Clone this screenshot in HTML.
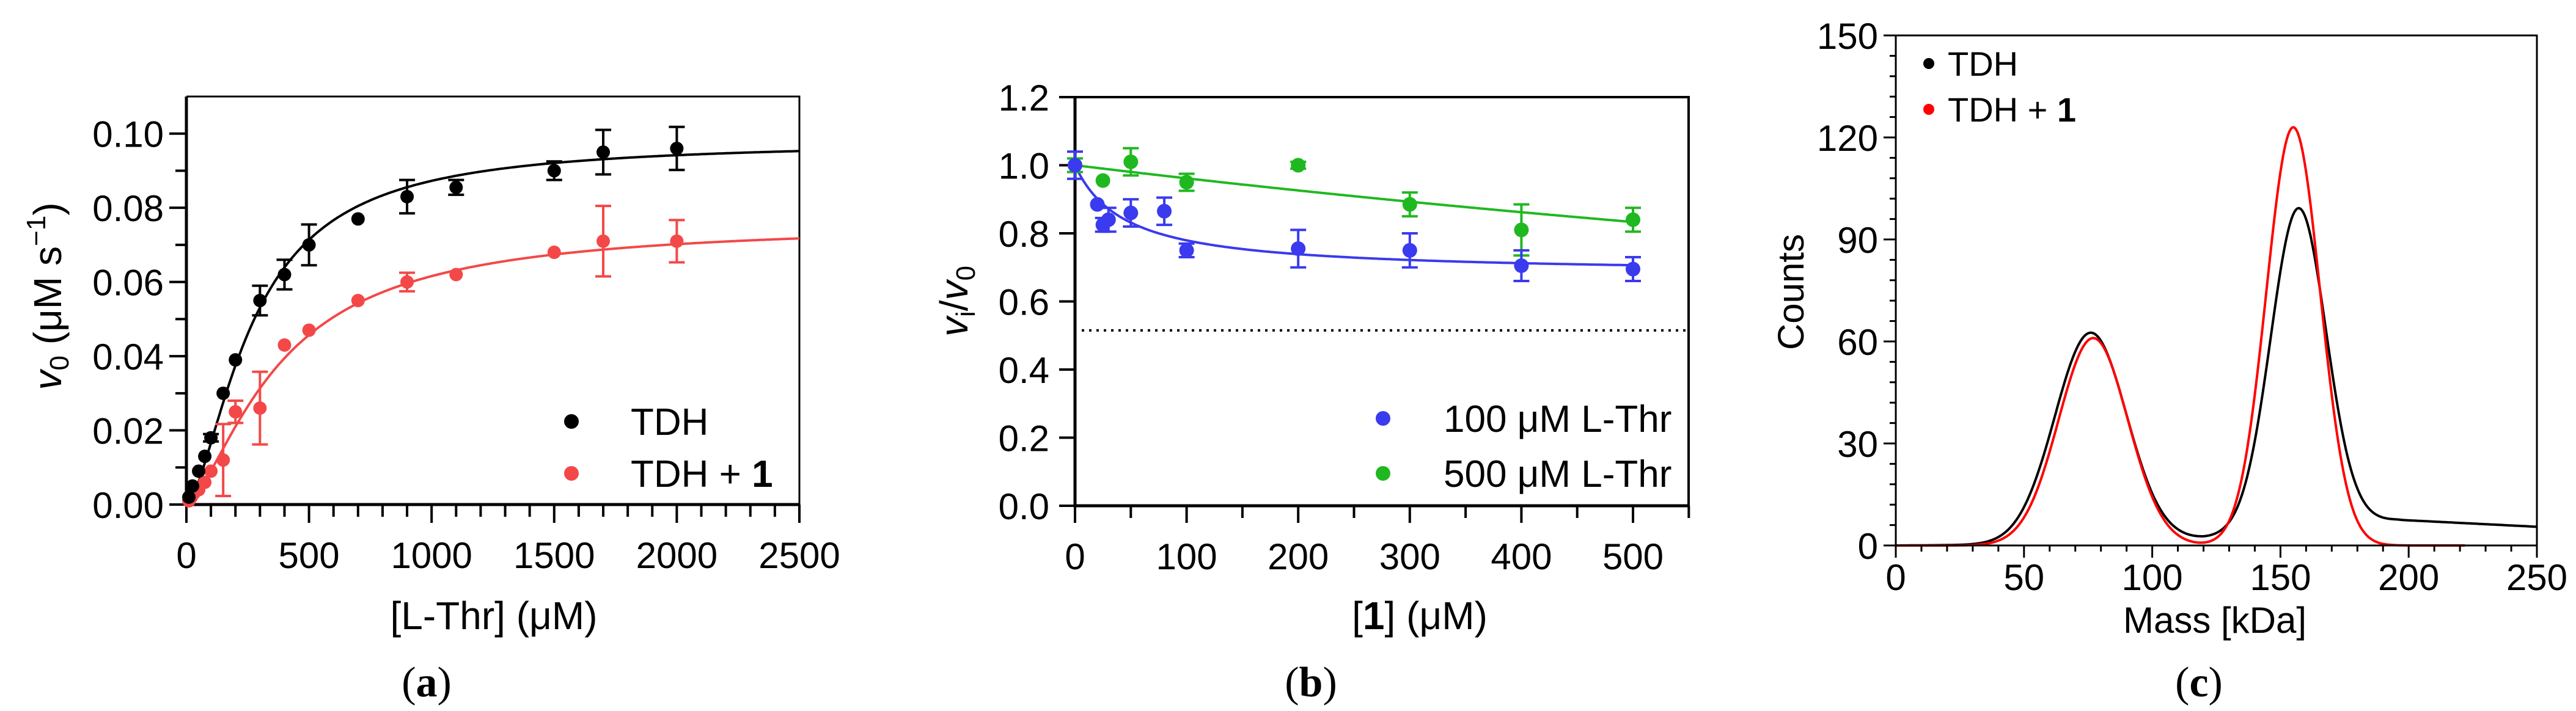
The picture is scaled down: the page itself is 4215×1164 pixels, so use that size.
<!DOCTYPE html>
<html><head><meta charset="utf-8"><style>
html,body{margin:0;padding:0;background:#fff}
svg{display:block;font-family:"Liberation Sans",sans-serif}
</style></head><body>
<svg id="fig" width="4215" height="1164" viewBox="0 0 4215 1164" xmlns="http://www.w3.org/2000/svg">
<g id="pa"></g>
<g id="pb"></g>
<g id="pc"></g>
<text x="698" y="1140" font-family="Liberation Serif,serif" font-size="70" text-anchor="middle">(<tspan font-weight="bold">a</tspan>)</text>
<text x="2145" y="1140" font-family="Liberation Serif,serif" font-size="70" text-anchor="middle">(<tspan font-weight="bold">b</tspan>)</text>
<text x="3598" y="1140" font-family="Liberation Serif,serif" font-size="70" text-anchor="middle">(<tspan font-weight="bold">c</tspan>)</text>
</svg>
<script>
// ---------- Panel A data ----------
const aTdhX = [10,25,50,75,100,150,200,300,400,500,700,900,1100,1500,1700,2000];
const aTdhY = [0.002,0.005,0.009,0.013,0.018,0.030,0.039,0.055,0.062,0.070,0.077,0.083,0.0855,0.090,0.095,0.096];
const aTdhE = [0,0,0,0,0.001,0,0,0.004,0.004,0.0055,0,0.0045,0.002,0.0025,0.006,0.0058];
const aRedX = [10,20,30,50,75,100,150,200,300,400,500,700,900,1100,1500,1700,2000];
const aRedY = [0.001,0.002,0.003,0.004,0.006,0.009,0.012,0.025,0.026,0.043,0.047,0.055,0.060,0.062,0.068,0.071,0.071];
const aRedE = [0,0,0,0,0,0,0.0097,0.003,0.0098,0,0,0,0.0025,0,0,0.0095,0.0057];
const aFitTdh = [0.098,270,1.6];  // Vmax, K, n
const aFitRed = [0.076,380,1.5];
const aXTicks = [0,500,1000,1500,2000,2500];
const aYTicks = [0,0.02,0.04,0.06,0.08,0.10];
const aYTickLabels = ["0.00","0.02","0.04","0.06","0.08","0.10"];
// ---------- Panel B data ----------
const bBlueX = [0,20,25,30,50,80,100,200,300,400,500];
const bBlueY = [1.0,0.885,0.825,0.84,0.86,0.865,0.75,0.755,0.75,0.705,0.695];
const bBlueE = [0.04,0,0.02,0.035,0.04,0.04,0.02,0.055,0.05,0.045,0.035];
const bGreenX = [0,25,50,100,200,300,400,500];
const bGreenY = [1.0,0.955,1.01,0.95,1.0,0.885,0.81,0.84];
const bGreenE = [0.02,0,0.04,0.025,0.01,0.035,0.075,0.035];
const bFitBlue = [0.32,45];   // Imax, IC50
const bFitGreen = [1.0,2500];
const bDotted = [0.515];
const bXTicks = [0,100,200,300,400,500];
const bYTicks = [0,0.2,0.4,0.6,0.8,1.0,1.2];
const bYTickLabels = ["0.0","0.2","0.4","0.6","0.8","1.0","1.2"];
// ---------- Panel C data ----------
const cTdhPeaks = [[76,62,14],[157,94,10.8]];   // center, height, sigma
const cRedPeaks = [[77,61,13.5],[155,123,10.5]];
const cBgX = [0,60,100,120,140,160,180,195,205,250];
const cBgY = [0,0.3,1,2,3.5,5.5,7,7.5,7.2,5.5];
const cXTicks = [0,50,100,150,200,250];
const cYTicks = [0,30,60,90,120,150];

const NS = "http://www.w3.org/2000/svg";
function el(parent, tag, attrs, text){
  const e = document.createElementNS(NS, tag);
  for (const k in attrs) e.setAttribute(k, attrs[k]);
  if (text !== undefined) e.textContent = text;
  parent.appendChild(e);
  return e;
}
function lin(d0,d1,r0,r1){ return v => r0 + (v-d0)/(d1-d0)*(r1-r0); }

// ===== Panel A =====
(function(){
  const g = document.getElementById('pa');
  const X = lin(0,2500,305,1308), Y = lin(0,0.11,826,158);
  const f = el(g,'path',{d:`M305 158V826H1308`,fill:'none',stroke:'#000','stroke-width':5});
  
  
  const t = el(g,'path',{d:'M305 158H1308V826',fill:'none',stroke:'#000','stroke-width':3});
  
  
  for (let v=0; v<=2500; v+=100){
    const major = v%500===0;
    const tk = el(g,'line',{x1:X(v),x2:X(v),y1:826,y2:826+(major?30:20),stroke:'#000','stroke-width':4});
    
    
  }
  for (let i=0;i<=10;i++){
    const v=i*0.01; const major=i%2===0;
    const tk = el(g,'line',{x1:305-(major?28:18),x2:305,y1:Y(v),y2:Y(v),stroke:'#000','stroke-width':4});
    
    
  }
  aXTicks.forEach(v=>{
    const l = el(g,'text',{x:X(v),y:930,'font-size':60,'text-anchor':'middle'},String(v));
    
    
  });
  aYTicks.forEach((v,i)=>{
    const l = el(g,'text',{x:268,y:Y(v)+22,'font-size':60,'text-anchor':'end'},aYTickLabels[i]);
    
    
  });
  const xt = el(g,'text',{x:808,y:1030,'font-size':64,'text-anchor':'middle'},'[L-Thr] (μM)');
  
  
  const yt = el(g,'text',{transform:'translate(100,485) rotate(-90)','font-size':64,'text-anchor':'middle'});
  
  
  yt.innerHTML = '<tspan font-style="italic">v</tspan><tspan font-size="44" dy="12">0</tspan><tspan dy="-12"> (μM s</tspan><tspan font-size="44" dy="-26">−1</tspan><tspan dy="26">)</tspan>';
  function fit(p,col,name){
    let d='';
    for (let x=0;x<=2500;x+=5){ const y=p[0]*Math.pow(x/p[1],p[2])/(1+Math.pow(x/p[1],p[2])); d+=(x?'L':'M')+X(x).toFixed(1)+' '+Y(y).toFixed(1); }
    const pth = el(g,'path',{d,fill:'none',stroke:col,'stroke-width':4});
    
    
  }
  function pts(xs,ys,es,col,name){
    xs.forEach((x,i)=>{
      if (es[i]>0){
        const eb = el(g,'path',{d:`M${X(x)-13} ${Y(ys[i]+es[i])}H${X(x)+13}M${X(x)} ${Y(ys[i]+es[i])}V${Y(ys[i]-es[i])}M${X(x)-13} ${Y(ys[i]-es[i])}H${X(x)+13}`,stroke:col,'stroke-width':4,fill:'none'});
        
        
      }
      const c = el(g,'circle',{cx:X(x),cy:Y(ys[i]),r:11,fill:col});
      
      
    });
  }
  fit(aFitRed,'#f44848','tdh-1-fit');
  fit(aFitTdh,'#000','tdh-fit');
  pts(aRedX,aRedY,aRedE,'#f44848','tdh-1');
  pts(aTdhX,aTdhY,aTdhE,'#000','tdh');
  const lg = el(g,'g',{});
  
  
  el(lg,'circle',{cx:935,cy:690,r:12,fill:'#000'});
  const l1 = el(lg,'text',{x:1032,y:712,'font-size':62},'TDH');
  
  
  el(lg,'circle',{cx:935,cy:775,r:12,fill:'#f44848'});
  const l2 = el(lg,'text',{x:1032,y:797,'font-size':62});
  l2.innerHTML = 'TDH + <tspan font-weight="bold">1</tspan>';
  
  
})();

// ===== Panel B =====
(function(){
  const g = document.getElementById('pb');
  const X = lin(0,500,1759,2672), Y = lin(0,1.2,828,159);
  const f = el(g,'path',{d:`M1759 159V828H2763`,fill:'none',stroke:'#000','stroke-width':5});
  
  
  const t = el(g,'path',{d:'M1759 159H2763V828',fill:'none',stroke:'#000','stroke-width':4});
  
  
  for (let v=0; v<=550; v+=50){
    const tk = el(g,'line',{x1:X(v),x2:X(v),y1:828,y2:828+(v%100===0?28:20),stroke:'#000','stroke-width':4});
    
    
  }
  bYTicks.forEach((v,i)=>{
    const tk = el(g,'line',{x1:1733,x2:1759,y1:Y(v),y2:Y(v),stroke:'#000','stroke-width':4});
    
    
    const l = el(g,'text',{x:1717,y:Y(v)+22,'font-size':60,'text-anchor':'end'},bYTickLabels[i]);
    
    
  });
  bXTicks.forEach(v=>{
    const l = el(g,'text',{x:X(v),y:932,'font-size':60,'text-anchor':'middle'},String(v));
    
    
  });
  const xt = el(g,'text',{x:2323,y:1030,'font-size':64,'text-anchor':'middle'});
  xt.innerHTML='[<tspan font-weight="bold">1</tspan>]  (μM)';
  
  
  const yt = el(g,'text',{transform:'translate(1583,493) rotate(-90)','font-size':64,'text-anchor':'middle'});
  yt.innerHTML='<tspan font-style="italic">v</tspan><tspan font-size="44" dy="12">i</tspan><tspan dy="-12">/</tspan><tspan font-style="italic">v</tspan><tspan font-size="44" dy="12">0</tspan>';
  
  
  const dl = el(g,'line',{x1:1770,x2:2763,y1:Y(bDotted[0]),y2:Y(bDotted[0]),stroke:'#000','stroke-width':4,'stroke-dasharray':'4 8'});
  
  
  function fit(p,col,name){
    let d='';
    for (let x=0;x<=500;x+=2){ const y=1-p[0]*x/(p[1]+x); d+=(x?'L':'M')+X(x).toFixed(1)+' '+Y(y).toFixed(1); }
    const pth = el(g,'path',{d,fill:'none',stroke:col,'stroke-width':4});
    
    
  }
  function pts(xs,ys,es,col,name){
    xs.forEach((x,i)=>{
      if (es[i]>0){
        const eb = el(g,'path',{d:`M${X(x)-13} ${Y(ys[i]+es[i])}H${X(x)+13}M${X(x)} ${Y(ys[i]+es[i])}V${Y(ys[i]-es[i])}M${X(x)-13} ${Y(ys[i]-es[i])}H${X(x)+13}`,stroke:col,'stroke-width':4,fill:'none'});
        
        
      }
      const c = el(g,'ellipse',{cx:X(x),cy:Y(ys[i]),rx:12,ry:12,fill:col});
      
      
    });
  }
  fit(bFitGreen,'#20b820','fit-500-uM');
  fit(bFitBlue,'#3a3aee','fit-100-uM');
  pts(bGreenX,bGreenY,bGreenE,'#20b820','500-uM');
  pts(bBlueX,bBlueY,bBlueE,'#3a3aee','100-uM');
  const lg = el(g,'g',{});
  
  
  el(lg,'circle',{cx:2263,cy:685,r:12,fill:'#3a3aee'});
  const l1 = el(lg,'text',{x:2362,y:707,'font-size':62},'100 μM L-Thr');
  
  
  el(lg,'circle',{cx:2263,cy:775,r:12,fill:'#20b820'});
  const l2 = el(lg,'text',{x:2362,y:797,'font-size':62},'500 μM L-Thr');
  
  
})();

// ===== Panel C =====
(function(){
  const g = document.getElementById('pc');
  const X = lin(0,250,3102,4151), Y = lin(0,150,893,58);
  function bg(x){
    for (let i=1;i<cBgX.length;i++){ if (x<=cBgX[i]){ const t=(x-cBgX[i-1])/(cBgX[i]-cBgX[i-1]); return cBgY[i-1]+t*(cBgY[i]-cBgY[i-1]); } }
    return cBgY[cBgY.length-1];
  }
  function gs(peaks,x){ let s=0; peaks.forEach(p=>{ s+=p[1]*Math.exp(-Math.pow(x-p[0],2)/(2*p[2]*p[2])); }); return s; }
  let dr='', db='';
  for (let x=0;x<=222;x+=0.5){ dr+=(x?'L':'M')+X(x).toFixed(1)+' '+Y(gs(cRedPeaks,x)).toFixed(1); }
  for (let x=0;x<=250;x+=0.5){ db+=(x?'L':'M')+X(x).toFixed(1)+' '+Y(gs(cTdhPeaks,x)+bg(x)).toFixed(1); }
  const pb = el(g,'path',{d:db,fill:'none',stroke:'#000','stroke-width':4});
  
  
  const pr = el(g,'path',{d:dr,fill:'none',stroke:'#ff0000','stroke-width':4});
  
  
  const f = el(g,'path',{d:`M3102 58V893H4151V58Z`,fill:'none',stroke:'#000','stroke-width':3});
  
  
  for (let v=0; v<=250; v+=10){
    const tk = el(g,'line',{x1:X(v),x2:X(v),y1:893,y2:893+(v%50===0?20:10),stroke:'#000','stroke-width':3});
    
    
  }
  for (let v=0; v<=150; v+=6){
    const tk = el(g,'line',{x1:3102-(v%30===0?20:10),x2:3102,y1:Y(v),y2:Y(v),stroke:'#000','stroke-width':3});
    
    
  }
  cXTicks.forEach(v=>{
    const l = el(g,'text',{x:X(v),y:966,'font-size':60,'text-anchor':'middle'},String(v));
    
    
  });
  cYTicks.forEach(v=>{
    const l = el(g,'text',{x:3073,y:Y(v)+22,'font-size':60,'text-anchor':'end'},String(v));
    
    
  });
  const xt = el(g,'text',{x:3624,y:1036,'font-size':60,'text-anchor':'middle'},'Mass [kDa]');
  
  
  const yt = el(g,'text',{transform:'translate(2951,478) rotate(-90)','font-size':60,'text-anchor':'middle'},'Counts');
  
  
  const lg = el(g,'g',{});
  
  
  el(lg,'circle',{cx:3156,cy:104,r:9,fill:'#000'});
  const l1 = el(lg,'text',{x:3187,y:124,'font-size':56},'TDH');
  
  
  el(lg,'circle',{cx:3156,cy:179,r:9,fill:'#ff0000'});
  const l2 = el(lg,'text',{x:3187,y:199,'font-size':56});
  l2.innerHTML='TDH + <tspan font-weight="bold">1</tspan>';
  
  
})();
</script>
</body></html>
